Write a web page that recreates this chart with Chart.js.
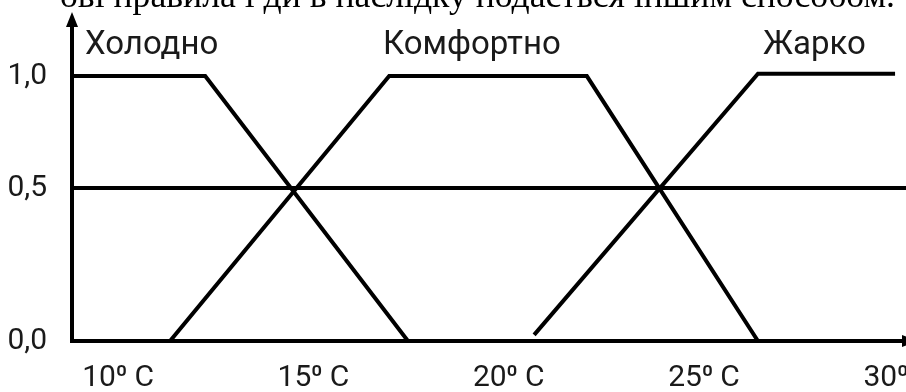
<!DOCTYPE html>
<html lang="uk">
<head>
<meta charset="utf-8">
<title>Функції належності температури</title>
<script src="https://cdn.jsdelivr.net/npm/chart.js@4.4.1/dist/chart.umd.min.js"></script>
<style>
  html, body { margin: 0; padding: 0; background: #fff; overflow: hidden; }
  #wrap { width: 906px; height: 392px; }
</style>
</head>
<body>
<div id="wrap"><canvas id="fuzzyChart" width="906" height="392"></canvas></div>
<script>
// breakpoints of the membership functions: temperature (°C) and degree
const coldT = [8.82, 12.23, 17.42];
const coldMu = [1, 1, 0];
const comfortT = [11.33, 16.94, 22.0, 26.38];
const comfortMu = [0, 1, 1, 0];
const hotT = [20.65, 26.38, 29.89];
const hotMu = [0.02, 1.01, 1.01];
const halfT = [8.82, 30.17];
const halfMu = [0.5, 0.5];

const xTicks = [10, 15, 20, 25, 30];
const yTicks = [0, 0.5, 1];

const termNames = ['Холодно', 'Комфортно', 'Жарко'];
const termLabelAt = [9.15, 16.78, 26.51];
const captionLine = 'ові правила і ди в наслідку подається іншим способом.';

function toPoints(xs, ys) {
    return xs.map((x, i) => ({ x: x, y: ys[i] }));
}

// linear axis whose lower part (0 .. split) gets a larger share of the height
class SplitScale extends Chart.LinearScale {
    toDecimal(v) {
        const share = this.options.lowerShare;
        const mid = this.options.split;
        if (v <= mid) return (v - this.min) / (mid - this.min) * share;
        return share + (v - mid) / (this.max - mid) * (1 - share);
    }
    getPixelForValue(value) {
        if (value === null || value === undefined) return NaN;
        return this.getPixelForDecimal(this.toDecimal(value));
    }
    getValueForPixel(pixel) {
        const d = this.getDecimalForPixel(pixel);
        const share = this.options.lowerShare;
        const mid = this.options.split;
        if (d <= share) return this.min + d / share * (mid - this.min);
        return mid + (d - share) / (1 - share) * (this.max - mid);
    }
}
SplitScale.id = 'split';
SplitScale.defaults = Chart.LinearScale.defaults;
Chart.register(SplitScale);

// axes with arrows, term names and the cut line of text above
const axesAndNotes = {
    id: 'axesAndNotes',
    afterDraw(chart) {
        const { ctx, chartArea: a, scales: { x, y } } = chart;
        ctx.save();
        ctx.strokeStyle = '#000';
        ctx.fillStyle = '#000';
        ctx.lineWidth = 4;
        ctx.lineCap = 'butt';

        ctx.beginPath();
        ctx.moveTo(a.left, a.bottom + 2);
        ctx.lineTo(a.left, a.top + 10);
        ctx.stroke();
        ctx.beginPath();
        ctx.moveTo(a.left, a.top);
        ctx.lineTo(a.left - 6, a.top + 15);
        ctx.lineTo(a.left + 6, a.top + 15);
        ctx.closePath();
        ctx.fill();

        ctx.beginPath();
        ctx.moveTo(a.left - 2, a.bottom);
        ctx.lineTo(a.right + 4, a.bottom);
        ctx.stroke();
        ctx.beginPath();
        ctx.moveTo(a.right + 12, a.bottom);
        ctx.lineTo(a.right - 4, a.bottom - 6);
        ctx.lineTo(a.right - 4, a.bottom + 6);
        ctx.closePath();
        ctx.fill();

        ctx.fillStyle = '#1a1a1a';
        ctx.font = '33px Roboto';
        ctx.textAlign = 'left';
        ctx.textBaseline = 'alphabetic';
        const nameY = y.getPixelForValue(1) - 22;
        termNames.forEach((name, i) => {
            ctx.fillText(name, x.getPixelForValue(termLabelAt[i]), nameY);
        });

        ctx.fillStyle = '#000';
        ctx.font = '36px "Liberation Serif"';
        ctx.fillText(captionLine, 60, 7, 835);
        ctx.restore();
    }
};

const lineStyle = {
    borderColor: '#000',
    borderWidth: 4,
    borderJoinStyle: 'miter',
    pointRadius: 0,
    tension: 0,
    fill: false
};

const myChart = new Chart(document.getElementById('fuzzyChart'), {
    type: 'line',
    data: {
        datasets: [
            { label: 'Холодно', data: toPoints(coldT, coldMu), ...lineStyle },
            { label: 'Комфортно', data: toPoints(comfortT, comfortMu), ...lineStyle },
            { label: 'Жарко', data: toPoints(hotT, hotMu), ...lineStyle },
            { label: '0,5', data: toPoints(halfT, halfMu), ...lineStyle }
        ]
    },
    options: {
        responsive: false,
        animation: false,
        layout: { padding: { top: 12, right: 0, bottom: 0, left: 0 } },
        plugins: {
            legend: { display: false },
            tooltip: { enabled: false }
        },
        scales: {
            x: {
                type: 'linear',
                min: 8.82,
                max: 30.17,
                grid: { display: false },
                border: { display: false },
                afterBuildTicks: (s) => { s.ticks = xTicks.map(v => ({ value: v })); },
                afterFit: (s) => {
                    s.height = 51;
                    s.paddingLeft = 0;
                    s.paddingRight = 0;
                },
                ticks: {
                    color: '#1a1a1a',
                    padding: 11,
                    maxRotation: 0,
                    autoSkip: false,
                    font: { family: 'Roboto', size: 30 },
                    callback: (v) => v + '⁰ C'
                }
            },
            y: {
                type: 'split',
                min: 0,
                max: 1.286,
                split: 0.5,
                lowerShare: 0.465,
                grid: { display: false },
                border: { display: false },
                afterBuildTicks: (s) => { s.ticks = yTicks.map(v => ({ value: v })); },
                afterFit: (s) => {
                    s.width = 72;
                    s.paddingTop = 0;
                    s.paddingBottom = 0;
                },
                ticks: {
                    color: '#1a1a1a',
                    padding: 17,
                    font: { family: 'Roboto', size: 30 },
                    callback: (v) => v.toFixed(1).replace('.', ',')
                }
            }
        }
    },
    plugins: [axesAndNotes]
});
</script>
</body>
</html>
